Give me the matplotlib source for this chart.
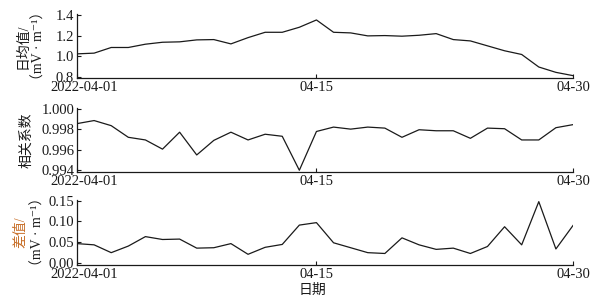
import numpy as np
import matplotlib
matplotlib.use("Agg")
import matplotlib.pyplot as plt
import matplotlib.transforms as mtransforms

plt.rcParams['font.family'] = ['Liberation Serif', 'Noto Sans CJK SC', 'DejaVu Sans']
plt.rcParams['axes.unicode_minus'] = False

# 日期: 2022-04-01 .. 2022-04-30
days = np.arange(1, 31)

# 日均值 (mV·m⁻¹)
daily_mean = [1.022, 1.029, 1.084, 1.084, 1.116, 1.135, 1.139, 1.158, 1.161, 1.119,
              1.180, 1.232, 1.232, 1.281, 1.352, 1.232, 1.226, 1.197, 1.200, 1.194,
              1.203, 1.219, 1.161, 1.148, 1.100, 1.052, 1.016, 0.894, 0.842, 0.810]

# 相关系数
corr = [0.99857, 0.99887, 0.99837, 0.99723, 0.99697, 0.99607, 0.99773, 0.99550, 0.99693, 0.99773,
        0.99697, 0.99753, 0.99733, 0.99400, 0.99780, 0.99823, 0.99803, 0.99823, 0.99813, 0.99723,
        0.99797, 0.99787, 0.99787, 0.99713, 0.99813, 0.99807, 0.99697, 0.99697, 0.99817, 0.99847]

# 差值 (mV·m⁻¹)
diff = [0.046, 0.043, 0.024, 0.040, 0.063, 0.056, 0.057, 0.035, 0.036, 0.046,
        0.020, 0.037, 0.044, 0.091, 0.097, 0.048, 0.036, 0.024, 0.022, 0.060,
        0.043, 0.032, 0.035, 0.022, 0.039, 0.087, 0.043, 0.148, 0.033, 0.090]

xticks = [1, 15, 30]
xticklabels = ['2022-04-01', '04-15', '04-30']

fig = plt.figure(figsize=(6.04, 3.0), dpi=100)

left, width = 77 / 604, 496 / 604
panels = [
    # (bottom, height, data, ylim, yticks, yticklabels)
    (1 - 78 / 300, 64 / 300, daily_mean, (0.787, 1.41), [0.8, 1.0, 1.2, 1.4], ['0.8', '1.0', '1.2', '1.4']),
    (1 - 172 / 300, 64 / 300, corr, (0.99383, 1.0001), [0.994, 0.996, 0.998, 1.000],
     ['0.994', '0.996', '0.998', '1.000']),
    (1 - 265 / 300, 65 / 300, diff, (-0.006, 0.152), [0.0, 0.05, 0.10, 0.15], ['0.00', '0.05', '0.10', '0.15']),
]

shift = mtransforms.ScaledTranslation(7 / 100, 0, fig.dpi_scale_trans)

for bottom, height, data, ylim, yt, ytl in panels:
    ax = fig.add_axes([left, bottom, width, height])
    ax.plot(days, data, color='#1a1a1a', lw=0.9)
    ax.set_xlim(1, 30)
    ax.set_ylim(*ylim)
    ax.set_yticks(yt)
    ax.set_yticklabels(ytl)
    ax.set_xticks(xticks)
    ax.set_xticklabels(xticklabels)
    for s in ['top', 'right']:
        ax.spines[s].set_visible(False)
    for s in ['left', 'bottom']:
        ax.spines[s].set_linewidth(0.9)
        ax.spines[s].set_color('#1a1a1a')
    ax.tick_params(direction='in', length=3, width=0.8, labelsize=10.5, pad=2, colors='#1a1a1a')
    # 首个日期标签略向右
    lab0 = ax.get_xticklabels()[0]
    lab0.set_transform(lab0.get_transform() + shift)

# 纵轴标题
def ylab(y, lines, colors, xs):
    for t, c, x in zip(lines, colors, xs):
        fig.text(x / 604, 1 - y / 300, t, rotation=90, ha='center', va='center',
                 fontsize=10, color=c)

unit = '（mV · m⁻¹）'
ylab(46, ['日均值/', unit], ['#1a1a1a', '#1a1a1a'], [23, 39])
ylab(140, ['相关系数'], ['#1a1a1a'], [27])
ylab(232, ['差值/', unit], ['#c8702a', '#1a1a1a'], [21, 38])

fig.text(312 / 604, 1 - 290 / 300, '日期', ha='center', va='center', fontsize=10, color='#1a1a1a')

fig.savefig('out.png', dpi=100)
